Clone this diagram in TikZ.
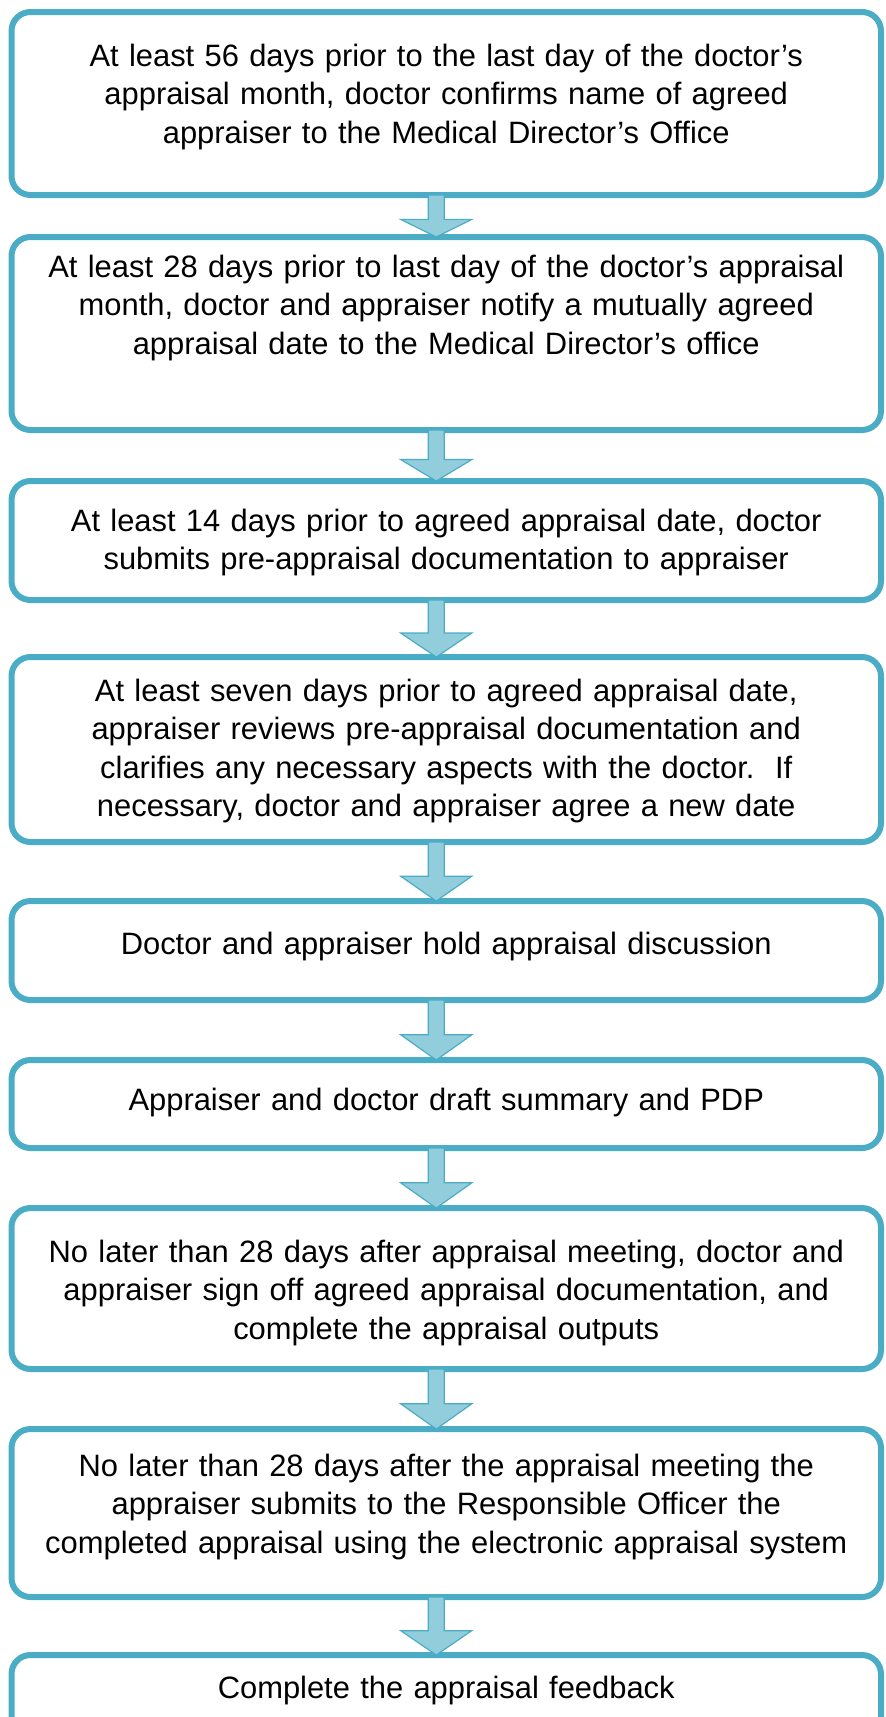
\documentclass[tikz,border=0pt]{standalone}
\usepackage{fontspec}
\setmainfont{Liberation Sans}
\usetikzlibrary{positioning, calc}
\definecolor{boxblue}{RGB}{75,172,198}
\definecolor{arrowblue}{RGB}{146,205,220}
\tikzset{
    step box/.style={
        rectangle,
        rounded corners=19pt,
        draw=boxblue,
        line width=6pt,
        fill=white,
        minimum width=869.5pt,
        text width=840pt,
        inner xsep=0pt,
        inner ysep=0pt,
        outer sep=0pt,
        align=center,
        font=\fontsize{30.9pt}{38.5pt}\selectfont
    },
    block arrow/.style={
        fill=arrowblue,
        draw=boxblue,
        line width=1.2pt,
        line join=miter
    }
}
\begin{document}
\begin{tikzpicture}[x=1pt, y=1pt]

% Page
\clip (0,0) rectangle (886,-1717);

% === STEPS ===

% Appraiser named
\node[step box, minimum height=183pt, text height=54.4pt, text depth=128.6pt]
     (s1) at (446.25,-103.5) {
    At least 56 days prior to the last day of the doctor’s\\
    appraisal month, doctor confirms name of agreed\\
    appraiser to the Medical Director’s Office
};

% Date agreed
\node[step box, minimum height=193pt, text height=40.2pt, text depth=152.8pt,
      below=42pt of s1] (s2) {
    At least 28 days prior to last day of the doctor’s appraisal\\
    month, doctor and appraiser notify a mutually agreed\\
    appraisal date to the Medical Director’s office
};

% Documentation submitted
\node[step box, minimum height=119pt, text height=50.4pt, text depth=68.6pt,
      below=51pt of s2] (s3) {
    At least 14 days prior to agreed appraisal date, doctor\\
    submits pre-appraisal documentation to appraiser
};

% Documentation reviewed
\node[step box, minimum height=185pt, text height=44pt, text depth=141pt,
      below=57pt of s3] (s4) {
    At least seven days prior to agreed appraisal date,\\
    appraiser reviews pre-appraisal documentation and\\
    clarifies any necessary aspects with the doctor.\ \ If\\
    necessary, doctor and appraiser agree a new date
};

% Discussion
\node[step box, minimum height=99pt, text height=53.5pt, text depth=45.5pt,
      below=59pt of s4] (s5) {
    Doctor and appraiser hold appraisal discussion
};

% Summary and PDP
\node[step box, minimum height=88pt, text height=50.3pt, text depth=37.7pt,
      below=60pt of s5] (s6) {
    Appraiser and doctor draft summary and PDP
};

% Sign off
\node[step box, minimum height=161pt, text height=54pt, text depth=107pt,
      below=60pt of s6] (s7) {
    No later than 28 days after appraisal meeting, doctor and\\
    appraiser sign off agreed appraisal documentation, and\\
    complete the appraisal outputs
};

% Submission to RO
\node[step box, minimum height=168pt, text height=47pt, text depth=121pt,
      below=60pt of s7] (s8) {
    No later than 28 days after the appraisal meeting the\\
    appraiser submits to the Responsible Officer the\\
    completed appraisal using the electronic appraisal system
};

% Feedback
\node[step box, minimum height=120pt, text height=43pt, text depth=77pt,
      below=58pt of s8] (s9) {
    Complete the appraisal feedback
};

% === ARROWS ===
\foreach \a/\b in {s1/s2, s2/s3, s3/s4, s4/s5, s5/s6, s6/s7, s7/s8, s8/s9} {
    \coordinate (tail) at ($(\a.south)+(-10,0)$);
    \coordinate (tip) at ($(\b.north)+(-10,0)$);
    \coordinate (neck) at ($(tip)!0.42!(tail)$);
    \draw[block arrow] ($(tail)+(-8,0)$) -- ($(neck)+(-8,0)$) -- ($(neck)+(-35.5,0)$)
        -- (tip) -- ($(neck)+(35.5,0)$) -- ($(neck)+(8,0)$) -- ($(tail)+(8,0)$) -- cycle;
}

\end{tikzpicture}
\end{document}
